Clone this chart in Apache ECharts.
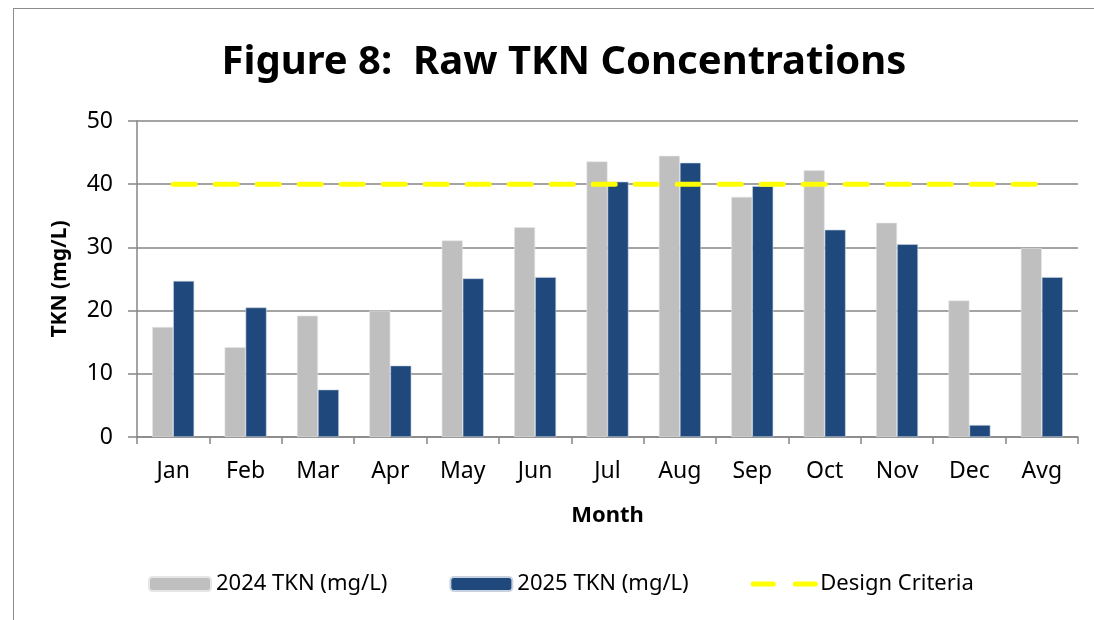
<!DOCTYPE html>
<html>
<head>
<meta charset="utf-8">
<script src="https://cdn.jsdelivr.net/npm/echarts@6/dist/echarts.min.js"></script>
<style>
    html, body { margin: 0; padding: 0; background: #fff; }
    #frame {
        position: absolute; left: 13px; top: 8px; width: 1200px; height: 700px;
        border-left: 1.5px solid #8c8c8c; border-top: 1.5px solid #8c8c8c;
    }
    #main { position: absolute; left: 0; top: 0; width: 1094px; height: 620px; }
</style>
</head>
<body>
<div id="frame"></div>
<div id="main"></div>
<script>
// 数据
var months = ['Jan', 'Feb', 'Mar', 'Apr', 'May', 'Jun', 'Jul', 'Aug', 'Sep', 'Oct', 'Nov', 'Dec', 'Avg'];
var tkn2024 = [17.4, 14.2, 19.2, 20.0, 31.1, 33.2, 43.6, 44.5, 38.0, 42.2, 33.9, 21.6, 29.9];
var tkn2025 = [24.7, 20.5, 7.5, 11.3, 25.1, 25.3, 40.4, 43.4, 39.7, 32.8, 30.5, 1.9, 25.3];
var designCriteria = [40, 40, 40, 40, 40, 40, 40, 40, 40, 40, 40, 40, 40];

var font = 'Noto Sans';

var div = document.getElementById('main');
var myChart = echarts.init(div, null, {
    renderer: 'canvas',
    useDirtyRect: false
});

var option = {
    animation: false,
    textStyle: { fontFamily: font },
    title: {
        text: 'Figure 8:  Raw TKN Concentrations',
        left: 559,
        textAlign: 'center',
        top: 38,
        textStyle: { fontSize: 40, fontWeight: 'bold', color: '#000', fontFamily: font }
    },
    legend: {
        bottom: 20,
        left: 143,
        itemWidth: 62,
        itemHeight: 14,
        itemGap: 62,
        textStyle: { fontSize: 22, color: '#000', fontFamily: font },
        data: [
            { name: '2024 TKN (mg/L)' },
            { name: '2025 TKN (mg/L)' },
            {
                name: 'Design Criteria',
                itemStyle: { opacity: 0 },
                lineStyle: { width: 5, color: '#FFFF00', type: [20, 22], cap: 'round' }
            }
        ]
    },
    grid: {
        left: 137,
        right: 16,
        top: 121,
        bottom: 183
    },
    xAxis: {
        type: 'category',
        data: months,
        name: 'Month',
        nameLocation: 'middle',
        nameGap: 68,
        nameTextStyle: { fontSize: 22, fontWeight: 'bold', color: '#000' },
        axisLine: { lineStyle: { color: '#868686', width: 1.5 } },
        axisTick: { show: true, length: 7, lineStyle: { color: '#868686', width: 1.5 } },
        axisLabel: { fontSize: 23, color: '#000', margin: 23 }
    },
    yAxis: {
        type: 'value',
        min: 0,
        max: 50,
        interval: 10,
        name: 'TKN (mg/L)',
        nameLocation: 'middle',
        nameGap: 66,
        nameTextStyle: { fontSize: 21, fontWeight: 'bold', color: '#000' },
        axisLine: { show: true, lineStyle: { color: '#868686', width: 1.5 } },
        axisTick: { show: true, length: 9, lineStyle: { color: '#868686', width: 1.5 } },
        axisLabel: { fontSize: 23, color: '#000', margin: 24 },
        splitLine: { lineStyle: { color: '#868686', width: 1.5 } }
    },
    series: [
        {
            name: '2024 TKN (mg/L)',
            type: 'bar',
            data: tkn2024,
            barGap: '0%',
            barCategoryGap: '42%',
            itemStyle: { color: '#BFBFBF', borderColor: '#e6e6e6', borderWidth: 0.6 }
        },
        {
            name: '2025 TKN (mg/L)',
            type: 'bar',
            data: tkn2025,
            itemStyle: { color: '#1F497D', borderColor: '#c9d3e0', borderWidth: 0.6 }
        },
        {
            name: 'Design Criteria',
            type: 'line',
            data: designCriteria,
            symbol: 'none',
            z: 5,
            lineStyle: { color: '#FFFF00', width: 5, type: [22, 20], cap: 'round' },
            itemStyle: { color: '#FFFF00' }
        }
    ]
};

if (option && typeof option === 'object') {
    myChart.setOption(option);
}

window.addEventListener('resize', myChart.resize);
</script>
</body>
</html>
